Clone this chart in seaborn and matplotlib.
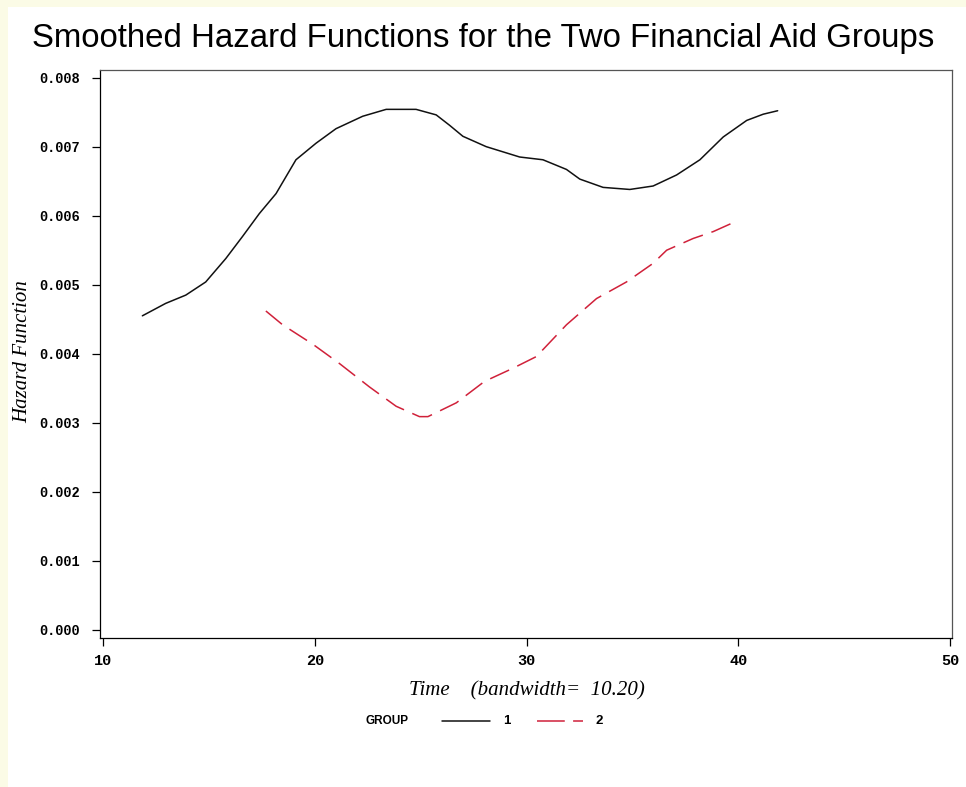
import numpy as np
import pandas as pd
import matplotlib
matplotlib.use("Agg")
import matplotlib.pyplot as plt
from matplotlib.lines import Line2D
from matplotlib.patches import Rectangle
import seaborn as sns

# Smoothed hazard estimates (kernel bandwidth 10.20) for each financial-aid group
time_g1 = [11.86, 12.96, 13.91, 14.85, 15.80, 16.59, 17.38, 18.17, 19.11, 20.06,
           21.00, 22.26, 23.37, 24.78, 25.73, 26.36, 26.99, 28.09, 29.67, 30.77,
           31.88, 32.51, 33.61, 34.87, 35.97, 37.08, 38.18, 39.28, 40.39, 41.17, 41.85]
hazard_g1 = [0.00455, 0.00473, 0.00485, 0.00504, 0.00538, 0.00570, 0.00603, 0.00632,
             0.00681, 0.00705, 0.00726, 0.00744, 0.00754, 0.00754, 0.00746, 0.00731,
             0.00715, 0.00700, 0.00685, 0.00681, 0.00667, 0.00653, 0.00641, 0.00638,
             0.00643, 0.00659, 0.00681, 0.00714, 0.00738, 0.00747, 0.00752]

time_g2 = [17.69, 18.48, 19.90, 21.16, 22.58, 23.84, 24.94, 25.34, 26.68, 28.01,
           29.35, 30.46, 31.88, 33.30, 34.71, 35.97, 36.61, 37.86, 38.81, 39.90]
hazard_g2 = [0.00462, 0.00442, 0.00414, 0.00386, 0.00352, 0.00324, 0.00309, 0.00309,
             0.00329, 0.00360, 0.00379, 0.00396, 0.00442, 0.00480, 0.00504, 0.00531,
             0.00550, 0.00567, 0.00577, 0.00592]

groups = ["1", "2"]
x_ticks = [10, 20, 30, 40, 50]
y_ticks = [0.000, 0.001, 0.002, 0.003, 0.004, 0.005, 0.006, 0.007, 0.008]

df = pd.DataFrame({
    "Time": time_g1 + time_g2,
    "Hazard": hazard_g1 + hazard_g2,
    "GROUP": [groups[0]] * len(time_g1) + [groups[1]] * len(time_g2),
})

sns.set_theme(style="white")
plt.rcParams["lines.scale_dashes"] = False

colors = {"1": "#111111", "2": "#d0213a"}
dash_styles = {"1": "", "2": (15, 6.5)}

fig = plt.figure(figsize=(9.66, 7.87), dpi=100)
fig.patch.set_facecolor("#fbfbe6")
# white page area inside the pale border
fig.patches.append(Rectangle((8 / 966, 0), 1, 1 - 7 / 787, transform=fig.transFigure,
                             facecolor="white", edgecolor="none", zorder=-10))

ax = fig.add_axes([100 / 966, (787 - 638) / 787, 852 / 966, (638 - 70) / 787])
ax.set_zorder(1)
ax.set_facecolor("white")

sns.lineplot(data=df, x="Time", y="Hazard", hue="GROUP", style="GROUP",
             palette=colors, dashes=dash_styles, linewidth=1.1,
             legend=False, ax=ax, sort=True)

ax.set_xlim(9.86, 50.08)
ax.set_ylim(-0.000116, 0.00811)
ax.set_xticks(x_ticks)
ax.set_yticks(y_ticks)
ax.set_xticklabels([str(t) for t in x_ticks])
ax.set_yticklabels([f"{v:.3f}" for v in y_ticks])

for lab in ax.get_yticklabels():
    lab.set_fontfamily("Liberation Mono")
    lab.set_fontweight("bold")
    lab.set_fontsize(9.8)
    lab.set_color("black")
for lab in ax.get_xticklabels():
    lab.set_fontfamily("Liberation Mono")
    lab.set_fontweight("bold")
    lab.set_fontsize(11)
    lab.set_color("black")

ax.tick_params(axis="both", which="major", direction="out", length=5.5, width=0.9,
               color="black", bottom=True, left=True)
ax.tick_params(axis="y", pad=9)
ax.tick_params(axis="x", pad=6)
for side, sp in ax.spines.items():
    sp.set_visible(True)
    sp.set_color("black" if side in ("left", "bottom") else "#555555")
    sp.set_linewidth(0.9)

ax.set_xlabel("")
ax.set_ylabel("")

# Title and axis labels
fig.text(483 / 966, 1 - 38 / 787, "Smoothed Hazard Functions for the Two Financial Aid Groups",
         ha="center", va="center", family="Liberation Sans", fontsize=23.8, color="black")
fig.text(527 / 966, 1 - 691 / 787, "Time    (bandwidth=  10.20)", ha="center", va="center",
         family="Liberation Serif", style="italic", fontsize=15, color="black")
fig.text(23 / 966, 1 - 352 / 787, "Hazard Function", ha="center", va="center", rotation=90,
         family="Liberation Serif", style="italic", fontsize=15, color="black")

# Legend row: GROUP  ---- 1   - - 2
ly = 1 - 721 / 787
fig.text(365 / 966, ly, "GROUP", ha="left", va="center", family="Liberation Sans",
         weight="bold", fontsize=8.5, color="black")
fig.lines.append(Line2D([442 / 966, 490 / 966], [ly, ly], transform=fig.transFigure,
                        color=colors["1"], linewidth=1.1))
fig.text(503 / 966, ly, groups[0], ha="left", va="center", family="Liberation Sans",
         weight="bold", fontsize=9.5, color="black")
leg2 = Line2D([537 / 966, 583 / 966], [ly, ly], transform=fig.transFigure,
              color=colors["2"], linewidth=1.1)
leg2.set_dashes((20, 6))
fig.lines.append(leg2)
fig.text(596 / 966, ly, groups[1], ha="left", va="center", family="Liberation Sans",
         weight="bold", fontsize=9.5, color="black")

fig.savefig("out.png", dpi=100, facecolor=fig.get_facecolor())
